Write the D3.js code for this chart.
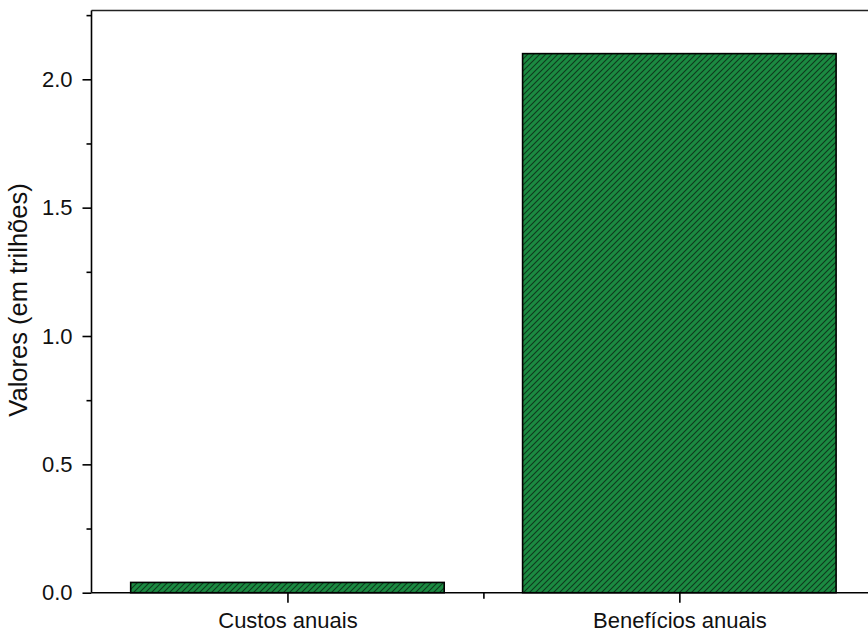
<!DOCTYPE html>
<html>
<head>
<meta charset="utf-8">
<script src="https://cdn.jsdelivr.net/npm/d3@7"></script>
<style>
html,body{margin:0;padding:0;background:#fff;}
svg{display:block;font-family:"Liberation Sans",Arial,sans-serif;}
</style>
</head>
<body>
<svg id="chart" width="868" height="633"></svg>
<script>
const categories = ["Custos anuais", "Benefícios anuais"];
const values = [0.04, 2.1];
const yTicks = [0.0, 0.5, 1.0, 1.5, 2.0];
const yMinorTicks = [0.25, 0.75, 1.25, 1.75, 2.25];
const yLabel = "Valores (em trilhões)";

(function () {
const svg = d3.select("#chart");
const mLeft = 91.5, mBottom = 592.7, mTop = 10.5, mRight = 875.3;

const x = d3.scaleLinear().domain([0.5, categories.length + 0.5]).range([mLeft, mRight]);
const y = d3.scaleLinear().domain([0, 2.268]).range([mBottom, mTop]);

const defs = svg.append("defs");
const pat = defs.append("pattern")
  .attr("id", "hatch").attr("patternUnits", "userSpaceOnUse")
  .attr("width", 6).attr("height", 6);
pat.append("rect").attr("width", 6).attr("height", 6).attr("fill", "#1b8a41");
pat.append("path").attr("d", "M-1,1 L1,-1 M0,6 L6,0 M5,7 L7,5")
  .attr("stroke", "#0d3a1c").attr("stroke-width", 1.1);

const barW = 0.8;
svg.selectAll("rect.bar").data(values).enter().append("rect")
  .attr("class", "bar")
  .attr("x", (d, i) => x(i + 1 - barW / 2))
  .attr("width", (d, i) => x(i + 1 + barW / 2) - x(i + 1 - barW / 2))
  .attr("y", d => y(d))
  .attr("height", d => y(0) - y(d))
  .attr("fill", "url(#hatch)")
  .attr("stroke", "#000").attr("stroke-width", 1.6);

svg.append("line").attr("x1", mLeft).attr("x2", 868).attr("y1", mTop).attr("y2", mTop)
  .attr("stroke", "#222").attr("stroke-width", 1.6);

const yAxis = d3.axisLeft(y).tickValues(yTicks).tickFormat(d3.format(".1f")).tickSize(9).tickPadding(10);
const gy = svg.append("g").attr("transform", `translate(${mLeft},0)`).call(yAxis);
gy.select(".domain").attr("stroke", "#000").attr("stroke-width", 1.6).attr("d", `M0,${mBottom}V${mTop}`);
gy.selectAll(".tick line").attr("stroke", "#000").attr("stroke-width", 1.6);
gy.selectAll(".tick text").attr("font-size", 22).attr("fill", "#111").attr("font-family", "Liberation Sans, Arial, sans-serif");
const gym = svg.append("g").attr("transform", `translate(${mLeft},0)`)
  .call(d3.axisLeft(y).tickValues(yMinorTicks).tickSize(5).tickFormat(""));
gym.select(".domain").remove();
gym.selectAll(".tick line").attr("stroke", "#000").attr("stroke-width", 1.6);

const xAxis = d3.axisBottom(x).tickValues(categories.map((c, i) => i + 1))
  .tickFormat((d) => categories[d - 1]).tickSize(10).tickPadding(9.5);
const gx = svg.append("g").attr("transform", `translate(0,${mBottom})`).call(xAxis);
gx.select(".domain").attr("stroke", "#000").attr("stroke-width", 1.6).attr("d", `M${mLeft},0H868`);
gx.selectAll(".tick line").attr("stroke", "#000").attr("stroke-width", 1.6);
gx.selectAll(".tick text").attr("font-size", 22).attr("fill", "#111").attr("font-family", "Liberation Sans, Arial, sans-serif");
const gxm = svg.append("g").attr("transform", `translate(0,${mBottom})`)
  .call(d3.axisBottom(x).tickValues([1.5]).tickSize(6).tickFormat(""));
gxm.select(".domain").remove();
gxm.selectAll(".tick line").attr("stroke", "#000").attr("stroke-width", 1.6);

svg.append("text")
  .attr("transform", `translate(27,300) rotate(-90)`)
  .attr("text-anchor", "middle")
  .attr("font-size", 25.5).attr("fill", "#111")
  .text(yLabel);
})();
</script>
</body>
</html>
